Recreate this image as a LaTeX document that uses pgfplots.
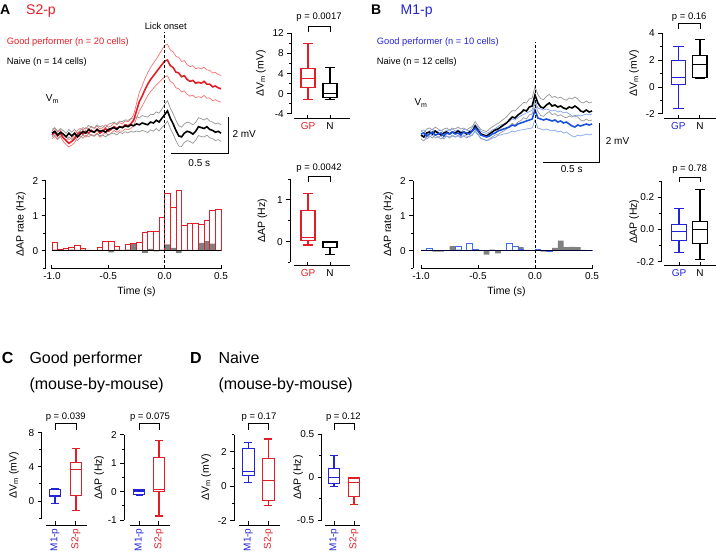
\documentclass[border=0pt]{standalone}
\usepackage{fontspec}
\setmainfont{Liberation Sans}
\usepackage{pgfplots}
\pgfplotsset{compat=1.18}
\usepackage{pgfplotstable}
\usepgfplotslibrary{statistics}

\definecolor{sred}{RGB}{228,30,38}
\definecolor{sredl}{RGB}{250,115,115}
\definecolor{mblue}{RGB}{35,35,215}
\definecolor{tblue}{RGB}{25,80,225}
\definecolor{tbluel}{RGB}{130,165,240}
\definecolor{semgray}{RGB}{150,150,150}
\definecolor{bargray}{RGB}{128,128,128}
\definecolor{barblue}{RGB}{60,110,230}

\pgfplotstableread{
t rm rs km ks
-1.000 0.00 0.20 0.10 0.20
-0.975 0.15 0.22 0.20 0.20
-0.950 -0.05 0.20 0.00 0.20
-0.925 0.10 0.18 0.15 0.20
-0.900 -0.15 0.20 0.05 0.20
-0.875 -0.30 0.22 -0.10 0.20
-0.850 -0.45 0.20 0.10 0.20
-0.825 -0.35 0.20 -0.05 0.20
-0.800 -0.20 0.22 0.10 0.20
-0.775 0.05 0.20 -0.10 0.20
-0.750 0.15 0.20 0.05 0.20
-0.725 0.05 0.22 0.20 0.20
-0.700 0.20 0.20 0.10 0.22
-0.675 0.10 0.20 0.30 0.22
-0.650 0.25 0.22 0.20 0.22
-0.625 0.15 0.20 0.15 0.22
-0.600 0.30 0.20 0.30 0.24
-0.575 0.10 0.22 0.20 0.24
-0.550 0.20 0.20 0.25 0.25
-0.525 0.35 0.20 0.15 0.25
-0.500 0.20 0.22 0.30 0.28
-0.475 0.30 0.20 0.35 0.28
-0.450 0.45 0.20 0.40 0.30
-0.425 0.35 0.20 0.30 0.30
-0.400 0.45 0.22 0.45 0.30
-0.375 0.40 0.20 0.40 0.32
-0.350 0.55 0.22 0.50 0.32
-0.325 0.50 0.22 0.45 0.34
-0.300 0.60 0.25 0.55 0.35
-0.275 0.80 0.30 0.50 0.35
-0.250 1.30 0.40 0.60 0.38
-0.225 1.80 0.50 0.55 0.38
-0.200 2.10 0.55 0.65 0.40
-0.175 2.45 0.60 0.60 0.40
-0.150 2.75 0.62 0.55 0.42
-0.125 3.00 0.65 0.70 0.42
-0.100 3.20 0.68 0.65 0.45
-0.075 3.40 0.70 0.80 0.45
-0.050 3.60 0.75 0.70 0.48
-0.025 3.80 0.80 0.90 0.50
0.000 4.00 0.85 1.10 0.55
0.025 4.05 0.85 1.30 0.55
0.050 3.75 0.85 0.90 0.55
0.075 3.65 0.85 0.60 0.55
0.100 3.40 0.85 0.25 0.55
0.125 3.35 0.85 -0.05 0.55
0.150 3.15 0.82 -0.10 0.52
0.175 3.20 0.82 0.10 0.50
0.200 3.00 0.80 0.20 0.50
0.225 2.90 0.80 0.15 0.50
0.250 2.95 0.80 0.05 0.50
0.275 2.80 0.78 0.20 0.48
0.300 2.85 0.78 0.45 0.48
0.325 2.80 0.78 0.40 0.48
0.350 2.90 0.76 0.35 0.46
0.375 2.75 0.76 0.45 0.46
0.400 2.75 0.75 0.30 0.45
0.425 2.60 0.75 0.25 0.45
0.450 2.65 0.74 0.15 0.45
0.475 2.55 0.72 0.20 0.45
0.500 2.50 0.72 0.10 0.45
}\traceA

\pgfplotstableread{
t km ks bm bs
-1.000 0.00 0.20 0.05 0.15
-0.975 -0.10 0.20 0.10 0.15
-0.950 0.10 0.20 -0.05 0.15
-0.925 0.15 0.20 0.05 0.15
-0.900 0.05 0.20 0.15 0.15
-0.875 0.20 0.20 0.00 0.15
-0.850 0.10 0.20 0.05 0.15
-0.825 0.00 0.20 0.10 0.15
-0.800 0.10 0.20 -0.05 0.15
-0.775 0.15 0.20 0.10 0.15
-0.750 0.05 0.20 0.05 0.15
-0.725 0.15 0.20 0.15 0.15
-0.700 0.10 0.20 0.05 0.15
-0.675 0.20 0.20 0.10 0.15
-0.650 0.10 0.20 0.00 0.15
-0.625 0.15 0.20 0.15 0.15
-0.600 0.05 0.20 0.10 0.15
-0.575 0.15 0.20 0.05 0.15
-0.550 0.20 0.22 0.20 0.18
-0.525 0.45 0.22 0.35 0.18
-0.500 0.25 0.22 0.20 0.18
-0.475 0.05 0.22 0.00 0.18
-0.450 0.00 0.22 -0.05 0.18
-0.425 -0.05 0.22 -0.10 0.18
-0.400 0.05 0.25 -0.05 0.20
-0.375 0.15 0.25 0.05 0.20
-0.350 0.25 0.25 0.10 0.22
-0.325 0.30 0.28 0.20 0.22
-0.300 0.40 0.28 0.25 0.25
-0.275 0.50 0.30 0.30 0.25
-0.250 0.60 0.30 0.35 0.28
-0.225 0.75 0.32 0.40 0.28
-0.200 0.90 0.32 0.50 0.30
-0.175 0.85 0.35 0.45 0.30
-0.150 1.00 0.35 0.55 0.32
-0.125 1.10 0.38 0.60 0.35
-0.100 1.25 0.38 0.65 0.38
-0.075 1.20 0.40 0.70 0.40
-0.050 1.40 0.40 0.75 0.42
-0.025 1.45 0.40 0.80 0.45
0.000 2.00 0.42 1.25 0.50
0.025 1.60 0.42 0.85 0.50
0.050 1.40 0.42 0.80 0.50
0.075 1.35 0.42 0.75 0.50
0.100 1.50 0.43 0.80 0.50
0.125 1.60 0.43 0.75 0.50
0.150 1.45 0.43 0.70 0.50
0.175 1.50 0.43 0.75 0.50
0.200 1.40 0.44 0.65 0.50
0.225 1.45 0.44 0.70 0.50
0.250 1.35 0.44 0.60 0.50
0.275 1.30 0.44 0.65 0.50
0.300 1.40 0.45 0.55 0.50
0.325 1.35 0.45 0.45 0.50
0.350 1.45 0.45 0.40 0.50
0.375 1.35 0.45 0.50 0.50
0.400 1.20 0.45 0.45 0.50
0.425 1.15 0.45 0.50 0.50
0.450 1.25 0.45 0.55 0.50
0.475 1.15 0.45 0.50 0.50
0.500 1.20 0.45 0.55 0.50
}\traceB

% histogram bins (centres), A: GP (red) and N (gray)
\pgfplotstableread{
x gp n
-0.975 0.23 0.03
-0.925 0.03 0.02
-0.875 0.06 0.02
-0.825 0.08 0.03
-0.775 0.15 0.02
-0.725 0.07 0.03
-0.675 0.00 0.02
-0.625 0.00 0.00
-0.575 0.09 0.02
-0.525 0.27 0.02
-0.475 0.26 -0.05
-0.425 0.13 0.03
-0.375 0.00 0.02
-0.325 0.18 0.03
-0.275 0.21 0.20
-0.225 0.24 0.02
-0.175 0.53 -0.06
-0.125 0.56 0.05
-0.075 0.56 -0.02
-0.025 0.96 0.03
0.025 1.64 0.18
0.075 1.24 0.08
0.125 1.73 -0.06
0.175 0.71 0.02
0.225 0.78 0.02
0.275 0.78 0.02
0.325 0.76 0.22
0.375 0.86 0.27
0.425 1.14 0.20
0.475 1.18 0.02
}\histA

\pgfplotstableread{
x gp n
-0.975 0.02 0.02
-0.925 0.07 0.00
-0.875 0.02 -0.03
-0.825 0.00 -0.03
-0.775 0.00 0.00
-0.725 0.02 0.13
-0.675 0.12 0.03
-0.625 0.02 0.00
-0.575 0.20 0.00
-0.525 0.05 0.02
-0.475 0.02 0.00
-0.425 0.00 -0.11
-0.375 0.02 0.03
-0.325 0.00 -0.08
-0.275 0.00 0.00
-0.225 0.20 0.00
-0.175 0.13 0.00
-0.125 0.03 0.10
-0.075 0.00 0.02
-0.025 0.02 0.00
0.025 0.04 0.02
0.075 0.00 -0.03
0.125 -0.02 0.00
0.175 0.02 0.08
0.225 0.02 0.29
0.275 0.02 0.10
0.325 0.02 0.11
0.375 0.02 0.10
0.425 0.02 0.02
0.475 0.02 0.00
}\histB

\pgfplotsset{
  every axis/.append style={
    scale only axis, clip=false,
    axis x line*=bottom, axis y line*=left,
    axis line style={line width=1pt, black},
    every tick/.style={black, line width=1pt},
    major tick length=4pt, minor tick length=2.5pt,
    xtick align=inside, ytick align=outside,
    tick label style={font=\fontsize{10}{12}\selectfont},
    label style={font=\fontsize{10.5}{12}\selectfont},
    /pgf/number format/assume math mode=true,
    boxplot/draw direction=y,
  },
  bx/.style={line width=1.1pt, solid},
}

\begin{document}
\begin{tikzpicture}
\path[use as bounding box] (0,0) rectangle (716pt,-556pt);

% ---------------- Titles A/B ----------------
\node[anchor=base west, inner sep=0, font=\bfseries\fontsize{14}{16}\selectfont] at (0pt,-15pt) {A};
\node[anchor=base west, inner sep=0, text=sred, font=\fontsize{14}{16}\selectfont] at (26pt,-15pt) {S2-p};
\node[anchor=base west, inner sep=0, font=\bfseries\fontsize{14}{16}\selectfont] at (371pt,-15pt) {B};
\node[anchor=base west, inner sep=0, text=mblue, font=\fontsize{14}{16}\selectfont] at (400.5pt,-15pt) {M1-p};

\node[anchor=base, inner sep=0, font=\fontsize{9.3}{11}\selectfont] at (165.7pt,-29.3pt) {Lick onset};
\node[anchor=base west, inner sep=0, text=sred, font=\fontsize{9.3}{11}\selectfont] at (6.7pt,-45pt) {Good performer (n = 20 cells)};
\node[anchor=base west, inner sep=0, font=\fontsize{9.3}{11}\selectfont] at (6.7pt,-65pt) {Naive (n = 14 cells)};
\node[anchor=base west, inner sep=0, text=mblue, font=\fontsize{9.3}{11}\selectfont] at (376.7pt,-45pt) {Good performer (n = 10 cells)};
\node[anchor=base west, inner sep=0, font=\fontsize{9.3}{11}\selectfont] at (376.7pt,-65pt) {Naive (n = 12 cells)};

\node[anchor=base west, inner sep=0, font=\fontsize{10}{12}\selectfont] at (45.7pt,-101.7pt) {V\textsubscript{m}};
\node[anchor=base west, inner sep=0, font=\fontsize{10}{12}\selectfont] at (414.3pt,-106pt) {V\textsubscript{m}};

% scale bars
\draw[line width=1pt] (171pt,-154pt) -- (228pt,-154pt) -- (228pt,-117pt);
\node[anchor=base west, inner sep=0, font=\fontsize{10}{12}\selectfont] at (232.3pt,-137.3pt) {2 mV};
\node[anchor=base, inner sep=0, font=\fontsize{10}{12}\selectfont] at (199.3pt,-166.7pt) {0.5 s};
\draw[line width=1pt] (542.7pt,-162.7pt) -- (599.3pt,-162.7pt) -- (599.3pt,-122.7pt);
\node[anchor=base west, inner sep=0, font=\fontsize{10}{12}\selectfont] at (605.7pt,-145pt) {2 mV};
\node[anchor=base, inner sep=0, font=\fontsize{10}{12}\selectfont] at (571.7pt,-172.7pt) {0.5 s};

% ---------------- Panel A traces ----------------
\begin{axis}[at={(52pt,-162.75pt)}, anchor=south west, width=169pt, height=129.5pt,
  xmin=-1, xmax=0.5, ymin=-1.5, ymax=5.5, hide axis]
\addplot[sredl, line width=0.7pt] table[x=t, y expr=\thisrow{rm}+\thisrow{rs}] {\traceA};
\addplot[sredl, line width=0.7pt] table[x=t, y expr=\thisrow{rm}-\thisrow{rs}] {\traceA};
\addplot[semgray, line width=0.7pt] table[x=t, y expr=\thisrow{km}+\thisrow{ks}] {\traceA};
\addplot[semgray, line width=0.7pt] table[x=t, y expr=\thisrow{km}-\thisrow{ks}] {\traceA};
\addplot[sred, line width=1.6pt] table[x=t, y=rm] {\traceA};
\addplot[black, line width=1.6pt] table[x=t, y=km] {\traceA};
\end{axis}

% ---------------- Panel A histogram ----------------
\begin{axis}[at={(52pt,-268.2pt)}, anchor=south west, width=169pt, height=87.5pt,
  xmin=-1, xmax=0.5, ymin=-0.5, ymax=2,
  axis y line shift=6.3pt, axis x line shift=0.8pt,
  xtick={-1,-0.5,0,0.5}, xticklabels={-1.0,-0.5,0.0,0.5},
  ytick={0,1,2}, minor ytick={-0.5,0.5,1.5},
  xlabel={Time (s)}, ylabel={ΔAP rate (Hz)}, ylabel shift=0pt]
\addplot[ybar, bar width=0.05, bar shift=0pt, fill=bargray, draw=none] table[x=x, y=n] {\histA};
\addplot[ybar, bar width=0.05, bar shift=0pt, fill=none, draw=sred, line width=0.8pt] table[x=x, y=gp] {\histA};
\addplot[black, line width=1.3pt] coordinates {(-1,0) (0.5,0)};
\addplot[black, line width=0.9pt, dash pattern=on 3pt off 2pt] coordinates {(0,-0.5) (0,6.25)};
\end{axis}

% ---------------- Panel B traces ----------------
\begin{axis}[at={(421pt,-165pt)}, anchor=south west, width=171pt, height=130pt,
  xmin=-1, xmax=0.5, ymin=-1.5, ymax=5, hide axis]
\addplot[semgray, line width=0.7pt] table[x=t, y expr=\thisrow{km}+\thisrow{ks}] {\traceB};
\addplot[semgray, line width=0.7pt] table[x=t, y expr=\thisrow{km}-\thisrow{ks}] {\traceB};
\addplot[tbluel, line width=0.7pt] table[x=t, y expr=\thisrow{bm}+\thisrow{bs}] {\traceB};
\addplot[tbluel, line width=0.7pt] table[x=t, y expr=\thisrow{bm}-\thisrow{bs}] {\traceB};
\addplot[black, line width=1.6pt] table[x=t, y=km] {\traceB};
\addplot[tblue, line width=1.6pt] table[x=t, y=bm] {\traceB};
\end{axis}

% ---------------- Panel B histogram ----------------
\begin{axis}[at={(421pt,-268.2pt)}, anchor=south west, width=171pt, height=87.5pt,
  xmin=-1, xmax=0.5, ymin=-0.5, ymax=2,
  axis y line shift=7.7pt, axis x line shift=0.8pt,
  xtick={-1,-0.5,0,0.5}, xticklabels={-1.0,-0.5,0.0,0.5},
  ytick={0,1,2}, minor ytick={-0.5,0.5,1.5},
  xlabel={Time (s)}, ylabel={ΔAP rate (Hz)}]
\addplot[ybar, bar width=0.05, bar shift=0pt, fill=bargray, draw=none] table[x=x, y=n] {\histB};
\addplot[ybar, bar width=0.05, bar shift=0pt, fill=none, draw=barblue, line width=0.8pt] table[x=x, y=gp] {\histB};
\addplot[black!80!blue, line width=1.3pt] coordinates {(-1,0) (0.5,0)};
\addplot[black, line width=0.9pt, dash pattern=on 3pt off 2pt] coordinates {(0,-0.5) (0,5.96)};
\end{axis}

% ---------------- A boxes ----------------
\begin{axis}[at={(294pt,-114pt)}, anchor=south west, width=56pt, height=80.7pt,
  xmin=0.364, xmax=2.909, ymin=-4, ymax=12,
  axis y line shift=2.7pt, axis x line shift=5pt,
  xtick={1,2}, xticklabels={\textcolor{sred}{GP},N},
  ytick={-4,0,4,8,12}, minor ytick={-2,2,6,10},
  ylabel={ΔV\textsubscript{m} (mV)}]
\addplot[bx, sred, boxplot prepared={lower whisker=-1.2, lower quartile=1.3, median=3.1, upper quartile=5.1, upper whisker=10, draw position=1, box extend=0.64, whisker extend=0.48}] coordinates {};
\addplot[bx, black, boxplot prepared={lower whisker=-1.1, lower quartile=-0.7, median=0.13, upper quartile=2.0, upper whisker=5.3, draw position=2, box extend=0.64, whisker extend=0.48}] coordinates {};
\end{axis}
\draw[line width=0.9pt] (308pt,-32.3pt) -- (308pt,-26pt) -- (330pt,-26pt) -- (330pt,-32.3pt);
\node[anchor=base, inner sep=0, font=\fontsize{9.5}{11}\selectfont] at (319pt,-20pt) {p = 0.0017};

\begin{axis}[at={(294pt,-262.5pt)}, anchor=south west, width=56pt, height=83.4pt,
  xmin=0.364, xmax=2.909, ymin=-0.5, ymax=1.5,
  axis y line shift=3.7pt, axis x line shift=3.2pt,
  xtick={1,2}, xticklabels={\textcolor{sred}{GP},N},
  ytick={0,1}, minor ytick={-0.5,0.5,1.5},
  ylabel={ΔAP (Hz)}, ylabel shift=3pt]
\addplot[bx, sred, boxplot prepared={lower whisker=-0.08, lower quartile=0.02, median=0.1, upper quartile=0.74, upper whisker=1.16, draw position=1, box extend=0.64, whisker extend=0.48}] coordinates {};
\addplot[bx, black, boxplot prepared={lower whisker=-0.3, lower quartile=-0.14, median=-0.01, upper quartile=0.0, upper whisker=0.0, draw position=2, box extend=0.64, whisker extend=0.48}] coordinates {};
\end{axis}
\draw[line width=0.9pt] (308pt,-181.7pt) -- (308pt,-176pt) -- (330pt,-176pt) -- (330pt,-181.7pt);
\node[anchor=base, inner sep=0, font=\fontsize{9.5}{11}\selectfont] at (319pt,-171pt) {p = 0.0042};

% ---------------- B boxes ----------------
\begin{axis}[at={(664pt,-114pt)}, anchor=south west, width=52pt, height=80.7pt,
  xmin=0.34, xmax=2.74, ymin=-2, ymax=4,
  axis y line shift=1.7pt, axis x line shift=5pt,
  xtick={1,2}, xticklabels={\textcolor{mblue}{GP},N},
  ytick={-2,0,2,4}, minor ytick={-1,1,3},
  ylabel={ΔV\textsubscript{m} (mV)}]
\addplot[bx, mblue, boxplot prepared={lower whisker=-1.6, lower quartile=0.2, median=0.7, upper quartile=2.0, upper whisker=3.0, draw position=1, box extend=0.65, whisker extend=0.48}] coordinates {};
\addplot[bx, black, boxplot prepared={lower whisker=0.65, lower quartile=0.7, median=1.7, upper quartile=2.35, upper whisker=3.55, draw position=2, box extend=0.65, whisker extend=0.48}] coordinates {};
\end{axis}
\draw[line width=0.9pt] (678.3pt,-29pt) -- (678.3pt,-23.3pt) -- (700pt,-23.3pt) -- (700pt,-29pt);
\node[anchor=base, inner sep=0, font=\fontsize{9.5}{11}\selectfont] at (689.2pt,-19.3pt) {p = 0.16};

\begin{axis}[at={(664pt,-261.7pt)}, anchor=south west, width=52pt, height=80.5pt,
  xmin=0.286, xmax=2.76, ymin=-0.2, ymax=0.3,
  axis y line shift=2.3pt, axis x line shift=4.3pt,
  xtick={1,2}, xticklabels={\textcolor{mblue}{GP},N},
  ytick={-0.2,0,0.2}, yticklabels={-0.2,0.0,0.2}, minor ytick={-0.1,0.1,0.3},
  ylabel={ΔAP (Hz)}, ylabel shift=-9pt]
\addplot[bx, mblue, boxplot prepared={lower whisker=-0.144, lower quartile=-0.067, median=-0.015, upper quartile=0.033, upper whisker=0.13, draw position=1, box extend=0.68, whisker extend=0.48}] coordinates {};
\addplot[bx, black, boxplot prepared={lower whisker=-0.185, lower quartile=-0.088, median=0.0, upper quartile=0.052, upper whisker=0.25, draw position=2, box extend=0.68, whisker extend=0.48}] coordinates {};
\end{axis}
\draw[line width=0.9pt] (679.3pt,-182pt) -- (679.3pt,-177pt) -- (700pt,-177pt) -- (700pt,-182pt);
\node[anchor=base, inner sep=0, font=\fontsize{9.5}{11}\selectfont] at (689.6pt,-172pt) {p = 0.78};

% ---------------- C / D headers ----------------
\node[anchor=base west, inner sep=0, font=\bfseries\fontsize{16}{18}\selectfont] at (1.7pt,-363.3pt) {C};
\node[anchor=base west, inner sep=0, font=\fontsize{16}{18}\selectfont] at (29.3pt,-363.3pt) {Good performer};
\node[anchor=base west, inner sep=0, font=\fontsize{16}{18}\selectfont] at (29.3pt,-390pt) {(mouse-by-mouse)};
\node[anchor=base west, inner sep=0, font=\bfseries\fontsize{16}{18}\selectfont] at (190pt,-363.3pt) {D};
\node[anchor=base west, inner sep=0, font=\fontsize{16}{18}\selectfont] at (218.3pt,-363.3pt) {Naive};
\node[anchor=base west, inner sep=0, font=\fontsize{16}{18}\selectfont] at (218.3pt,-390pt) {(mouse-by-mouse)};

% ---------------- C ----------------
\begin{axis}[at={(46pt,-518.1pt)}, anchor=south west, width=40.7pt, height=85.4pt,
  xmin=0.571, xmax=2.51, ymin=-2, ymax=8,
  axis y line shift=4.3pt, axis x line shift=6.9pt,
  xtick={1,2}, xticklabels={\textcolor{mblue}{M1-p},\textcolor{sred}{S2-p}},
  xticklabel style={rotate=90, anchor=east},
  ytick={0,4,8}, minor ytick={-2,2,6},
  ylabel={ΔV\textsubscript{m} (mV)}, ylabel shift=3pt]
\addplot[bx, mblue, boxplot prepared={lower whisker=-0.27, lower quartile=0.5, median=0.65, upper quartile=1.4, upper whisker=1.45, draw position=1, box extend=0.52, whisker extend=0.36}] coordinates {};
\addplot[bx, sred, boxplot prepared={lower whisker=-1.13, lower quartile=0.66, median=3.7, upper quartile=4.5, upper whisker=6.2, draw position=2, box extend=0.52, whisker extend=0.36}] coordinates {};
\end{axis}
\draw[line width=0.9pt] (55pt,-430pt) -- (55pt,-423.3pt) -- (76pt,-423.3pt) -- (76pt,-430pt);
\node[anchor=base, inner sep=0, font=\fontsize{9.5}{11}\selectfont] at (65.7pt,-419.3pt) {p = 0.039};

\begin{axis}[at={(130pt,-520pt)}, anchor=south west, width=40pt, height=85pt,
  xmin=0.528, xmax=2.56, ymin=-1, ymax=2,
  axis y line shift=5.7pt, axis x line shift=5pt,
  xtick={1,2}, xticklabels={\textcolor{mblue}{M1-p},\textcolor{sred}{S2-p}},
  xticklabel style={rotate=90, anchor=east},
  ytick={-1,0,1,2}, minor ytick={-0.5,0.5,1.5},
  ylabel={ΔAP (Hz)}, ylabel shift=-3pt]
\addplot[bx, mblue, boxplot prepared={lower whisker=-0.15, lower quartile=-0.09, median=0.0, upper quartile=0.06, upper whisker=0.08, draw position=1, box extend=0.56, whisker extend=0.38}] coordinates {};
\addplot[bx, sred, boxplot prepared={lower whisker=-0.86, lower quartile=-0.01, median=0.08, upper quartile=1.2, upper whisker=1.8, draw position=2, box extend=0.56, whisker extend=0.38}] coordinates {};
\end{axis}
\draw[line width=0.9pt] (139.3pt,-430pt) -- (139.3pt,-423.3pt) -- (159pt,-423.3pt) -- (159pt,-430pt);
\node[anchor=base, inner sep=0, font=\fontsize{9.5}{11}\selectfont] at (150pt,-419.3pt) {p = 0.075};

% ---------------- D ----------------
\begin{axis}[at={(239.3pt,-520.7pt)}, anchor=south west, width=40.7pt, height=86.2pt,
  xmin=0.55, xmax=2.585, ymin=-2, ymax=3,
  axis y line shift=5pt, axis x line shift=4.3pt,
  xtick={1,2}, xticklabels={\textcolor{mblue}{M1-p},\textcolor{sred}{S2-p}},
  xticklabel style={rotate=90, anchor=east},
  ytick={-2,0,2}, minor ytick={-1,1,3},
  ylabel={ΔV\textsubscript{m} (mV)}]
\addplot[bx, mblue, boxplot prepared={lower whisker=0.23, lower quartile=0.64, median=0.87, upper quartile=2.2, upper whisker=2.54, draw position=1, box extend=0.58, whisker extend=0.4}] coordinates {};
\addplot[bx, sred, boxplot prepared={lower whisker=-1.1, lower quartile=-0.82, median=0.33, upper quartile=1.61, upper whisker=2.74, draw position=2, box extend=0.58, whisker extend=0.4}] coordinates {};
\end{axis}
\draw[line width=0.9pt] (248.3pt,-430pt) -- (248.3pt,-423.3pt) -- (268.3pt,-423.3pt) -- (268.3pt,-430pt);
\node[anchor=base, inner sep=0, font=\fontsize{9.5}{11}\selectfont] at (259pt,-419.3pt) {p = 0.17};

\begin{axis}[at={(325pt,-520pt)}, anchor=south west, width=35pt, height=85.7pt,
  xmin=0.55, xmax=2.3, ymin=-0.5, ymax=0.5,
  axis y line shift=3.3pt, axis x line shift=5pt,
  xtick={1,2}, xticklabels={\textcolor{mblue}{M1-p},\textcolor{sred}{S2-p}},
  xticklabel style={rotate=90, anchor=east},
  ytick={-0.5,0,0.5}, yticklabels={-0.5,0,0.5}, minor ytick={-0.25,0.25},
  ylabel={ΔAP (Hz)}, ylabel shift=-13pt]
\addplot[bx, mblue, boxplot prepared={lower whisker=-0.11, lower quartile=-0.07, median=0.0, upper quartile=0.1, upper whisker=0.25, draw position=1, box extend=0.58, whisker extend=0.4}] coordinates {};
\addplot[bx, sred, boxplot prepared={lower whisker=-0.32, lower quartile=-0.23, median=-0.06, upper quartile=-0.01, upper whisker=0.0, draw position=2, box extend=0.58, whisker extend=0.4}] coordinates {};
\end{axis}
\draw[line width=0.9pt] (334pt,-430pt) -- (334pt,-423.3pt) -- (354pt,-423.3pt) -- (354pt,-430pt);
\node[anchor=base, inner sep=0, font=\fontsize{9.5}{11}\selectfont] at (343.3pt,-419.3pt) {p = 0.12};

\end{tikzpicture}
\end{document}
